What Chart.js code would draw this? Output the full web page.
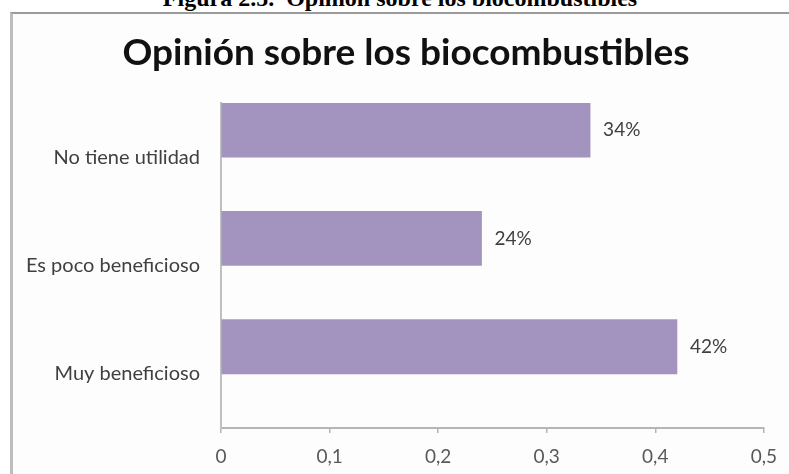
<!DOCTYPE html>
<html>
<head>
<meta charset="utf-8">
<script src="https://cdn.jsdelivr.net/npm/chart.js@4.4.1/dist/chart.umd.min.js"></script>
<style>
  html, body { margin: 0; padding: 0; background: #ffffff; width: 789px; height: 474px; overflow: hidden; }
  #caption { position: absolute; left: 0; width: 800px; top: -14px; text-align: center;
    font-family: "Liberation Serif", "DejaVu Serif", serif; font-weight: bold; font-size: 24px; line-height: 1; color: #000; white-space: pre; }
  #frame { position: absolute; left: 10px; top: 12px; width: 820px; height: 500px;
    border-left: 3px solid #bdbdbd; border-top: 2px solid #9a9a9a; background: #fdfdfd; }
  #wrap { position: absolute; left: 0; top: 0; width: 789px; height: 474px; }
</style>
</head>
<body>
<div id="caption">Figura 2.5.  Opinión sobre los biocombustibles</div>
<div id="frame"></div>
<div id="wrap"><canvas id="c" width="789" height="474"></canvas></div>
<script>
const chartTitle = "Opinión sobre los biocombustibles";
const categories = ["No tiene utilidad", "Es poco beneficioso", "Muy beneficioso"];
const values = [0.34, 0.24, 0.42];
const valueLabels = ["34%", "24%", "42%"];
const xTicks = [0, 0.1, 0.2, 0.3, 0.4, 0.5];

const barLabels = {
  id: 'barLabels',
  afterDatasetsDraw(chart) {
    const ctx = chart.ctx;
    const meta = chart.getDatasetMeta(0);
    ctx.save();
    ctx.font = '19px Lato, "Open Sans", sans-serif';
    ctx.fillStyle = '#404040';
    ctx.textAlign = 'left';
    ctx.textBaseline = 'middle';
    meta.data.forEach((bar, i) => {
      ctx.fillText(valueLabels[i], bar.x + 13, bar.y);
    });
    ctx.restore();
  }
};

// Chart title, centred on the framed picture (frame spans past the right edge)
const frameTitle = {
  id: 'frameTitle',
  afterDraw(chart) {
    const ctx = chart.ctx;
    ctx.save();
    ctx.font = 'bold 37px Lato, "Open Sans", sans-serif';
    ctx.fillStyle = '#111111';
    ctx.textAlign = 'center';
    ctx.textBaseline = 'middle';
    ctx.fillText(chartTitle, 406, 53);
    ctx.restore();
  }
};

new Chart(document.getElementById('c'), {
  type: 'bar',
  data: {
    labels: categories,
    datasets: [
      { data: values, backgroundColor: '#a294be', borderWidth: 0, categoryPercentage: 1, barPercentage: 1 },
      { data: values.map(() => null), backgroundColor: 'rgba(0,0,0,0)', categoryPercentage: 1, barPercentage: 1 }
    ]
  },
  options: {
    indexAxis: 'y',
    responsive: false,
    animation: false,
    devicePixelRatio: 1,
    layout: { padding: { left: 0, right: 25, top: 103, bottom: 0 } },
    plugins: {
      legend: { display: false },
      tooltip: { enabled: false },
      title: { display: false }
    },
    scales: {
      x: {
        type: 'linear',
        min: 0, max: 0.5,
        afterBuildTicks(scale) { scale.ticks = xTicks.map(v => ({ value: v })); },
        afterFit(scale) { scale.height = 46; },
        grid: { drawOnChartArea: false, drawTicks: true, tickLength: 5, color: '#b5b5b5', lineWidth: 1.5 },
        border: { display: true, color: '#b5b5b5', width: 2 },
        ticks: {
          padding: 12,
          color: '#595959',
          font: { family: 'Lato, "Open Sans", sans-serif', size: 19 },
          callback: (v) => String(v).replace('.', ',')
        }
      },
      y: {
        type: 'category',
        afterFit(scale) { scale.width = 221; },
        grid: { display: false, drawTicks: false },
        border: { display: true, color: '#c0c0c0', width: 2 },
        ticks: {
          padding: 21,
          color: '#404040',
          font: { family: 'Lato, "Open Sans", sans-serif', size: 20 }
        }
      }
    }
  },
  plugins: [barLabels, frameTitle]
});
</script>
</body>
</html>
